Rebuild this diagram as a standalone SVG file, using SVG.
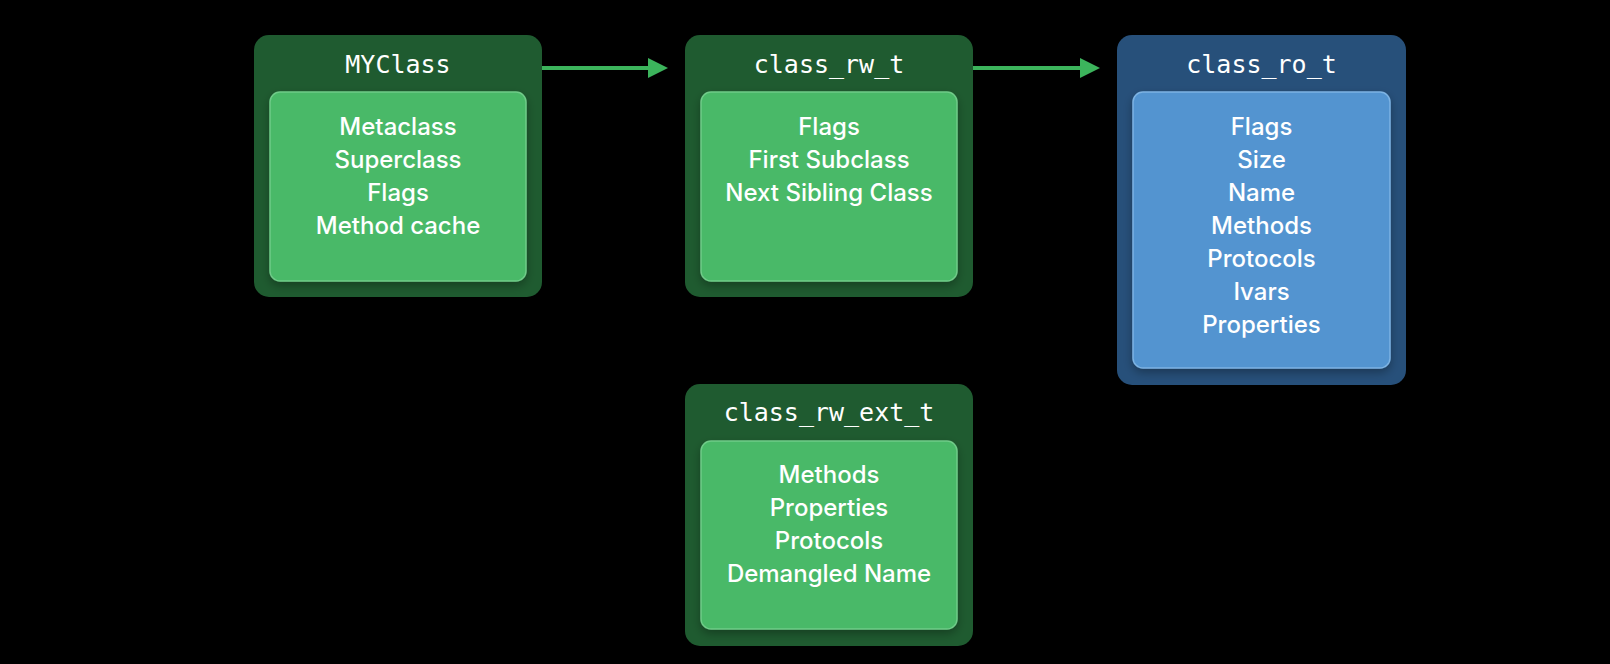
<svg xmlns="http://www.w3.org/2000/svg" width="1610" height="664" viewBox="0 0 1610 664">
  <style>
    .title { font-family: "DejaVu Sans Mono", "Liberation Mono", monospace; font-size: 25px; fill: #ffffff; text-anchor: middle; }
    .item { font-family: Inter, "Liberation Sans", Arial, sans-serif; font-size: 24px; font-weight: 500; fill: #ffffff; text-anchor: middle; }
    .outer-g { fill: #1f5b30; }
    .inner-g { fill: #48b968; stroke: #6fcb88; stroke-width: 1.5; }
    .outer-b { fill: #27507a; }
    .inner-b { fill: #5394d0; stroke: #7db3e3; stroke-width: 1.5; }
    .conn { stroke: #3cb45c; stroke-width: 4; fill: none; }
  </style>
  <defs>
    <marker id="arrow" markerUnits="userSpaceOnUse" markerWidth="20" markerHeight="20" refX="0" refY="10" orient="auto">
      <path d="M0,0 L20,10 L0,20 z" fill="#3cb45c"/>
    </marker>
    <filter id="shadow" x="-10%" y="-10%" width="120%" height="130%">
      <feDropShadow dx="0" dy="4" stdDeviation="5" flood-color="#000000" flood-opacity="0.3"/>
    </filter>
  </defs>
  <rect width="1610" height="664" fill="#000000"/>

  <g id="connectors">
    <line class="conn" x1="542" y1="68" x2="648" y2="68" marker-end="url(#arrow)"/>
    <line class="conn" x1="973" y1="68" x2="1080" y2="68" marker-end="url(#arrow)"/>
  </g>

  <g id="MYClass">
    <rect class="outer-g" x="254" y="35" width="288" height="262" rx="15"/>
    <text class="title" x="398" y="73">MYClass</text>
    <rect class="inner-g" x="270" y="92" width="256" height="189" rx="10" filter="url(#shadow)"/>
    <text class="item" x="398" y="135">Metaclass</text>
    <text class="item" x="398" y="168">Superclass</text>
    <text class="item" x="398" y="201">Flags</text>
    <text class="item" x="398" y="234">Method cache</text>
  </g>

  <g id="class_rw_t">
    <rect class="outer-g" x="685" y="35" width="288" height="262" rx="15"/>
    <text class="title" x="829" y="73">class_rw_t</text>
    <rect class="inner-g" x="701" y="92" width="256" height="189" rx="10" filter="url(#shadow)"/>
    <text class="item" x="829" y="135">Flags</text>
    <text class="item" x="829" y="168">First Subclass</text>
    <text class="item" x="829" y="201">Next Sibling Class</text>
  </g>

  <g id="class_ro_t">
    <rect class="outer-b" x="1117" y="35" width="289" height="350" rx="15"/>
    <text class="title" x="1261.5" y="73">class_ro_t</text>
    <rect class="inner-b" x="1133" y="92" width="257" height="276" rx="10" filter="url(#shadow)"/>
    <text class="item" x="1261.5" y="135">Flags</text>
    <text class="item" x="1261.5" y="168">Size</text>
    <text class="item" x="1261.5" y="201">Name</text>
    <text class="item" x="1261.5" y="234">Methods</text>
    <text class="item" x="1261.5" y="267">Protocols</text>
    <text class="item" x="1261.5" y="300">Ivars</text>
    <text class="item" x="1261.5" y="333">Properties</text>
  </g>

  <g id="class_rw_ext_t">
    <rect class="outer-g" x="685" y="384" width="288" height="262" rx="15"/>
    <text class="title" x="829" y="421">class_rw_ext_t</text>
    <rect class="inner-g" x="701" y="441" width="256" height="188" rx="10" filter="url(#shadow)"/>
    <text class="item" x="829" y="483">Methods</text>
    <text class="item" x="829" y="516">Properties</text>
    <text class="item" x="829" y="549">Protocols</text>
    <text class="item" x="829" y="582">Demangled Name</text>
  </g>
</svg>
